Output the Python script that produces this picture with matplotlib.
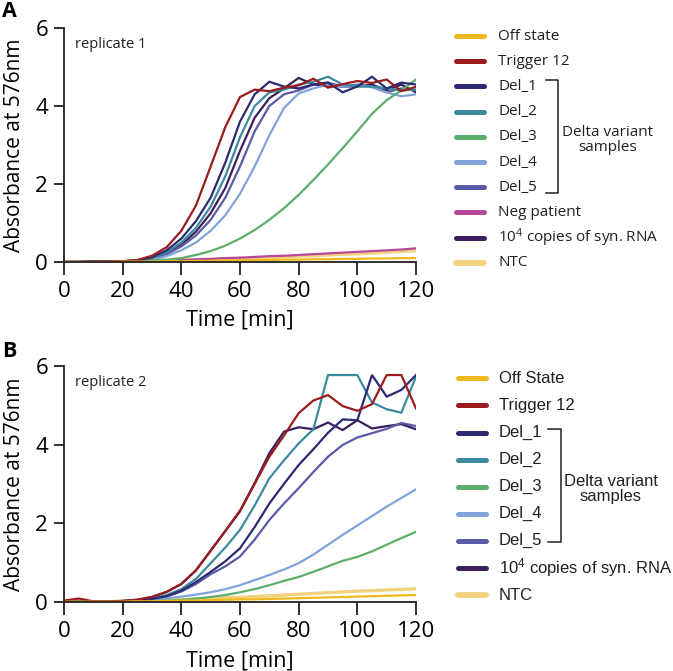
import matplotlib
matplotlib.use("Agg")
import matplotlib.pyplot as plt
from matplotlib.lines import Line2D
import numpy as np

plt.rcParams["font.family"] = ["Open Sans", "DejaVu Sans"]
plt.rcParams["mathtext.default"] = "regular"

# sampling times (min)
time = np.arange(0, 121, 5)

# ---- replicate 1 ----
a_off = [0, 0, 0, 0, 0.01, 0.01, 0.01, 0.02, 0.02, 0.03, 0.03, 0.04, 0.04, 0.05, 0.05,
         0.06, 0.06, 0.07, 0.07, 0.08, 0.08, 0.09, 0.09, 0.1, 0.1]
a_trig = [0, 0, 0.01, 0.01, 0.02, 0.05, 0.16, 0.38, 0.8, 1.45, 2.45, 3.46, 4.23, 4.42, 4.38,
          4.47, 4.53, 4.7, 4.47, 4.56, 4.64, 4.59, 4.68, 4.38, 4.49]
a_del1 = [0, 0, 0.01, 0.01, 0.02, 0.04, 0.12, 0.3, 0.6, 1.05, 1.65, 2.55, 3.6, 4.3, 4.62,
          4.5, 4.45, 4.55, 4.6, 4.35, 4.5, 4.75, 4.45, 4.6, 4.55]
a_del2 = [0, 0, 0.01, 0.01, 0.02, 0.04, 0.1, 0.25, 0.5, 0.88, 1.42, 2.2, 3.2, 4.0, 4.35,
          4.42, 4.55, 4.62, 4.75, 4.55, 4.5, 4.5, 4.45, 4.4, 4.42]
a_del3 = [0, 0, 0, 0, 0.01, 0.02, 0.04, 0.06, 0.1, 0.18, 0.28, 0.42, 0.6, 0.82, 1.08,
          1.38, 1.72, 2.1, 2.5, 2.92, 3.35, 3.8, 4.15, 4.4, 4.68]
a_del4 = [0, 0, 0.01, 0.01, 0.02, 0.03, 0.06, 0.15, 0.3, 0.5, 0.8, 1.2, 1.75, 2.45, 3.25,
          3.95, 4.32, 4.45, 4.55, 4.5, 4.52, 4.48, 4.35, 4.25, 4.3]
a_del5 = [0, 0, 0.01, 0.01, 0.02, 0.03, 0.08, 0.2, 0.4, 0.68, 1.08, 1.65, 2.45, 3.35, 4.0,
          4.3, 4.4, 4.55, 4.6, 4.5, 4.55, 4.5, 4.35, 4.45, 4.4]
a_neg = [0, 0, 0, 0.01, 0.01, 0.02, 0.03, 0.04, 0.05, 0.07, 0.08, 0.1, 0.11, 0.13, 0.15,
         0.16, 0.18, 0.2, 0.22, 0.24, 0.26, 0.28, 0.3, 0.32, 0.35]
a_syn = [0, 0, 0.01, 0.01, 0.02, 0.04, 0.1, 0.22, 0.44, 0.78, 1.25, 1.9, 2.85, 3.7, 4.2,
         4.45, 4.72, 4.55, 4.52, 4.5, 4.5, 4.55, 4.4, 4.55, 4.35]
a_ntc = [0, 0, 0, 0, 0.01, 0.01, 0.02, 0.03, 0.04, 0.05, 0.06, 0.08, 0.09, 0.1, 0.12,
         0.13, 0.15, 0.16, 0.18, 0.2, 0.21, 0.23, 0.25, 0.27, 0.29]

# ---- replicate 2 ----
b_off = [0, 0, 0, 0, 0, 0.01, 0.01, 0.02, 0.03, 0.03, 0.04, 0.05, 0.06, 0.06, 0.07,
         0.08, 0.09, 0.1, 0.11, 0.12, 0.13, 0.14, 0.15, 0.16, 0.17]
b_trig = [0.03, 0.08, 0.01, 0.01, 0.02, 0.05, 0.12, 0.25, 0.45, 0.8, 1.3, 1.8, 2.32, 3.0, 3.69,
          4.23, 4.8, 5.12, 5.26, 4.98, 4.86, 5.03, 5.77, 5.77, 4.92]
b_del1 = [0, 0, 0, 0, 0.01, 0.03, 0.07, 0.14, 0.28, 0.5, 0.76, 1.03, 1.36, 1.9, 2.5,
          3.0, 3.48, 3.88, 4.3, 4.64, 4.62, 5.77, 5.22, 5.39, 5.77]
b_del2 = [0, 0, 0, 0, 0.01, 0.03, 0.08, 0.17, 0.32, 0.58, 0.98, 1.38, 1.83, 2.45, 3.14,
          3.6, 4.03, 4.39, 5.77, 5.77, 5.77, 5.07, 4.9, 4.81, 5.73]
b_del3 = [0, 0, 0, 0, 0, 0, 0.01, 0.03, 0.05, 0.08, 0.12, 0.17, 0.24, 0.32, 0.42,
          0.53, 0.63, 0.76, 0.9, 1.04, 1.14, 1.28, 1.45, 1.62, 1.78]
b_del4 = [0, 0, 0, 0, 0.01, 0.02, 0.05, 0.08, 0.13, 0.18, 0.24, 0.32, 0.42, 0.55, 0.68,
          0.82, 0.98, 1.2, 1.45, 1.7, 1.94, 2.18, 2.42, 2.64, 2.86]
b_del5 = [0, 0, 0, 0, 0.01, 0.03, 0.06, 0.13, 0.26, 0.45, 0.7, 0.9, 1.15, 1.58, 2.08,
          2.5, 2.89, 3.3, 3.69, 3.99, 4.18, 4.29, 4.4, 4.55, 4.47]
b_syn = [0, 0, 0, 0, 0.02, 0.05, 0.12, 0.25, 0.45, 0.8, 1.3, 1.8, 2.3, 3.02, 3.78,
         4.33, 4.44, 4.39, 4.56, 4.37, 4.62, 4.41, 4.47, 4.52, 4.39]
b_ntc = [0, 0, 0, 0, 0.01, 0.02, 0.03, 0.04, 0.05, 0.07, 0.08, 0.1, 0.11, 0.13, 0.15,
         0.17, 0.19, 0.21, 0.23, 0.25, 0.27, 0.28, 0.3, 0.31, 0.33]

labels_a = ["Off state", "Trigger 12", "Del_1", "Del_2", "Del_3", "Del_4", "Del_5",
            "Neg patient", "10$^4$ copies of syn. RNA", "NTC"]
labels_b = ["Off State", "Trigger 12", "Del_1", "Del_2", "Del_3", "Del_4", "Del_5",
            "10$^4$ copies of syn. RNA", "NTC"]

colors = {
    "off": "#EDB91D", "trig": "#9B1B1E", "del1": "#2B2A72", "del2": "#3D8AA0",
    "del3": "#5DAE6A", "del4": "#7FA3DB", "del5": "#5A5AA6", "neg": "#B8479B",
    "syn": "#3A1F5C", "ntc": "#F2D27E",
}
keys_a = ["off", "trig", "del1", "del2", "del3", "del4", "del5", "neg", "syn", "ntc"]
keys_b = ["off", "trig", "del1", "del2", "del3", "del4", "del5", "syn", "ntc"]
series_a = [a_off, a_trig, a_del1, a_del2, a_del3, a_del4, a_del5, a_neg, a_syn, a_ntc]
series_b = [b_off, b_trig, b_del1, b_del2, b_del3, b_del4, b_del5, b_syn, b_ntc]

W, H = 673, 671
fig = plt.figure(figsize=(W / 100, H / 100), dpi=100)

def fx(x):
    return x / W

def fy(y):
    return 1 - y / H

axA = fig.add_axes([fx(64), fy(262), 352 / W, 234 / H])
axB = fig.add_axes([fx(64), fy(601.7), 352 / W, 235.7 / H])

ink = "#231F20"
for ax, keys, series, rep in [(axA, keys_a, series_a, "replicate 1"),
                              (axB, keys_b, series_b, "replicate 2")]:
    # draw from last to first so Off state / Trigger end up on top
    for k, s in list(zip(keys, series))[::-1]:
        lw = 2.4 if k == "ntc" else 1.6
        ax.plot(time, s, color=colors[k], lw=lw, solid_joinstyle="miter")
    ax.set_xlim(0, 120)
    ax.set_ylim(0, 6)
    ax.set_xticks([0, 20, 40, 60, 80, 100, 120])
    ax.set_yticks([0, 2, 4, 6])
    for side in ["top", "right"]:
        ax.spines[side].set_visible(False)
    for side in ["left", "bottom"]:
        ax.spines[side].set_linewidth(1.3)
        ax.spines[side].set_color(ink)
    ax.tick_params(axis="x", length=9, width=1.3, pad=5, labelsize=16, color=ink)
    ax.tick_params(axis="y", length=7.5, width=1.3, pad=4, labelsize=16, color=ink)
    ax.set_xlabel("Time [min]", fontsize=15.5)
    ax.xaxis.set_label_coords(0.5, -0.205)
    ax.set_ylabel("Absorbance at 576nm", fontsize=15)
    ax.yaxis.set_label_coords(-0.11, 0.5)
    ax.text(0.03, 0.93, rep, transform=ax.transAxes, fontsize=10.5, color=ink,
            va="center", ha="left")

fig.text(fx(2), fy(1), "A", fontsize=15.5, fontweight="bold", va="top", ha="left")
fig.text(fx(2), fy(341), "B", fontsize=15.5, fontweight="bold", va="top", ha="left")

# legends drawn by hand so the bracket lines up
def legend(keys, labels, y0, step, x0, x1, xt, family, size):
    for i, (k, lab) in enumerate(zip(keys, labels)):
        y = y0 + i * step
        fig.add_artist(Line2D([fx(x0), fx(x1)], [fy(y), fy(y)], color=colors[k],
                              lw=4.2 if k == "ntc" else 3.6, solid_capstyle="round"))
        fig.text(fx(xt), fy(y), lab, fontsize=size, va="center", ha="left",
                 family=family, color=ink)

def bracket(xv, xl, ytop, ybot, xtext, ytext, family, size):
    fig.add_artist(Line2D([fx(xl), fx(xv), fx(xv), fx(xl)],
                          [fy(ytop), fy(ytop), fy(ybot), fy(ybot)], color=ink, lw=1.1))
    fig.text(fx(xtext), fy(ytext), "Delta variant\nsamples", fontsize=size, ha="center",
             va="center", linespacing=1.0, family=family, color=ink)

open_sans = ["Open Sans", "DejaVu Sans"]
arial_like = ["Liberation Sans", "DejaVu Sans"]
legend(keys_a, labels_a, 36, 25.2, 456, 484, 498, open_sans, 11)
bracket(558, 546, 80, 193, 608, 140, open_sans, 11)
legend(keys_b, labels_b, 378.3, 27.1, 458, 486, 499, arial_like, 12)
bracket(561, 548, 429, 542, 611, 489.5, arial_like, 12)

fig.savefig("out.png", dpi=100)
